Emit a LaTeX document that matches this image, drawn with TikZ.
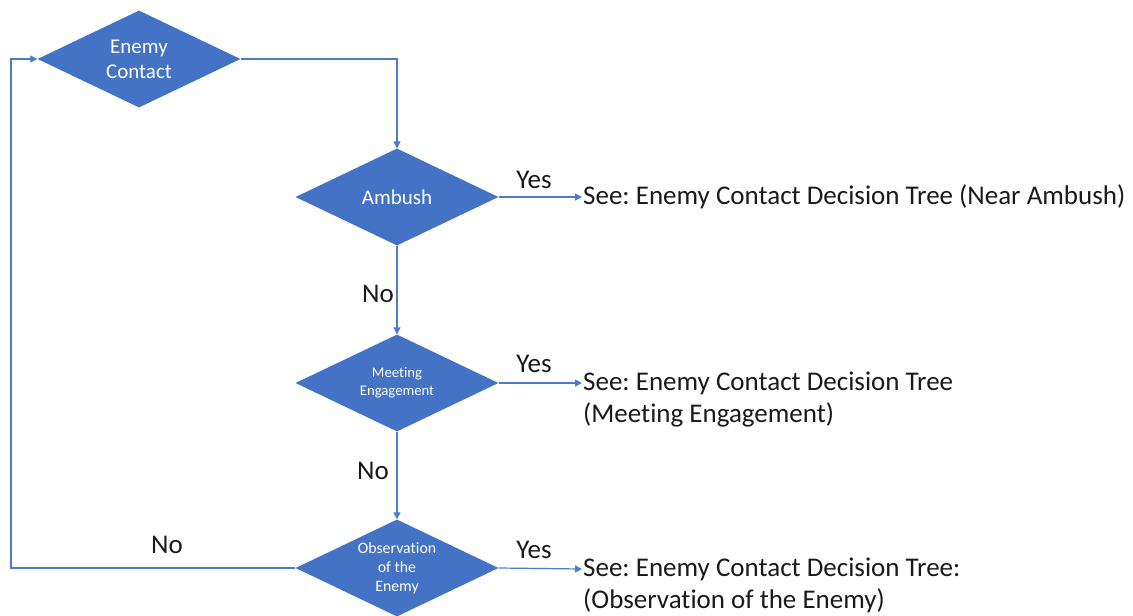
\documentclass[tikz,border=0pt]{standalone}
\usepackage{fontspec}
\setmainfont{Carlito}[Ligatures=NoCommon]
\frenchspacing
\usetikzlibrary{shapes.geometric,arrows.meta}
\definecolor{dblue}{HTML}{4472C4}
\definecolor{lblue}{HTML}{4A7BD0}
\definecolor{txt}{HTML}{1A1A1A}
\tikzset{
  dec/.style 2 args={diamond, fill=dblue, draw=none, inner sep=-20pt, minimum width=203pt, minimum height=97pt, text=white, align=center, font=\fontsize{#1}{#2}\selectfont},
  conn/.style={draw=lblue, line width=1.2pt, -{Triangle[length=7pt,width=7pt]}},
  lbl/.style={text=txt, font=\fontsize{27}{32}\selectfont, inner sep=1pt},
  ref/.style={lbl, anchor=west}
}
\begin{document}
\begin{tikzpicture}[x=1pt,y=-1pt]
\useasboundingbox (0,0) rectangle (1133,616);
\fill[white] (0,0) rectangle (1133,616);

\node[dec={21}{25}] (ec) at (139,59) {Enemy\\Contact};
\node[dec={21}{25}] (amb) at (397,197) {Ambush};
\node[dec={14.7}{18}] (me) at (397,383) {Meeting\\Engagement};
\node[dec={15.8}{19}] (obs) at (397,568) {Observation\\of the\\Enemy};

\node[ref] (ambT) at (582,197) {See: Enemy Contact Decision Tree (Near Ambush)};
\node[ref] (meT) at (582,383) {See: Enemy Contact Decision Tree};
\node[ref] (meT2) at (582,415) {(Meeting Engagement)};
\node[ref] (obsT) at (582,569) {See: Enemy Contact Decision Tree:};
\node[ref] (obsT2) at (582,601) {(Observation of the Enemy)};

\coordinate (c1) at (397,59);
\coordinate (c2) at (11,568);
\coordinate (c3) at (11,59);

\draw[conn] (ec.east) -- (c1) -- (amb.north);
\draw[conn] (amb.east) -- (ambT.west);
\draw[conn] (me.east) -- (meT.west);
\draw[conn] (obs.east) -- (obsT.west);
\draw[conn] (amb.south) -- (me.north);
\draw[conn] (me.south) -- (obs.north);
\draw[conn] (obs.west) -- (c2) -- (c3) -- (ec.west);

\node[lbl] (y1) at (534,180) {Yes};
\node[lbl] (y2) at (534,364) {Yes};
\node[lbl] (y3) at (534,550) {Yes};
\node[lbl] (n1) at (378,294) {No};
\node[lbl] (n2) at (373,471) {No};
\node[lbl] (n3) at (167,545) {No};
\end{tikzpicture}
\end{document}
